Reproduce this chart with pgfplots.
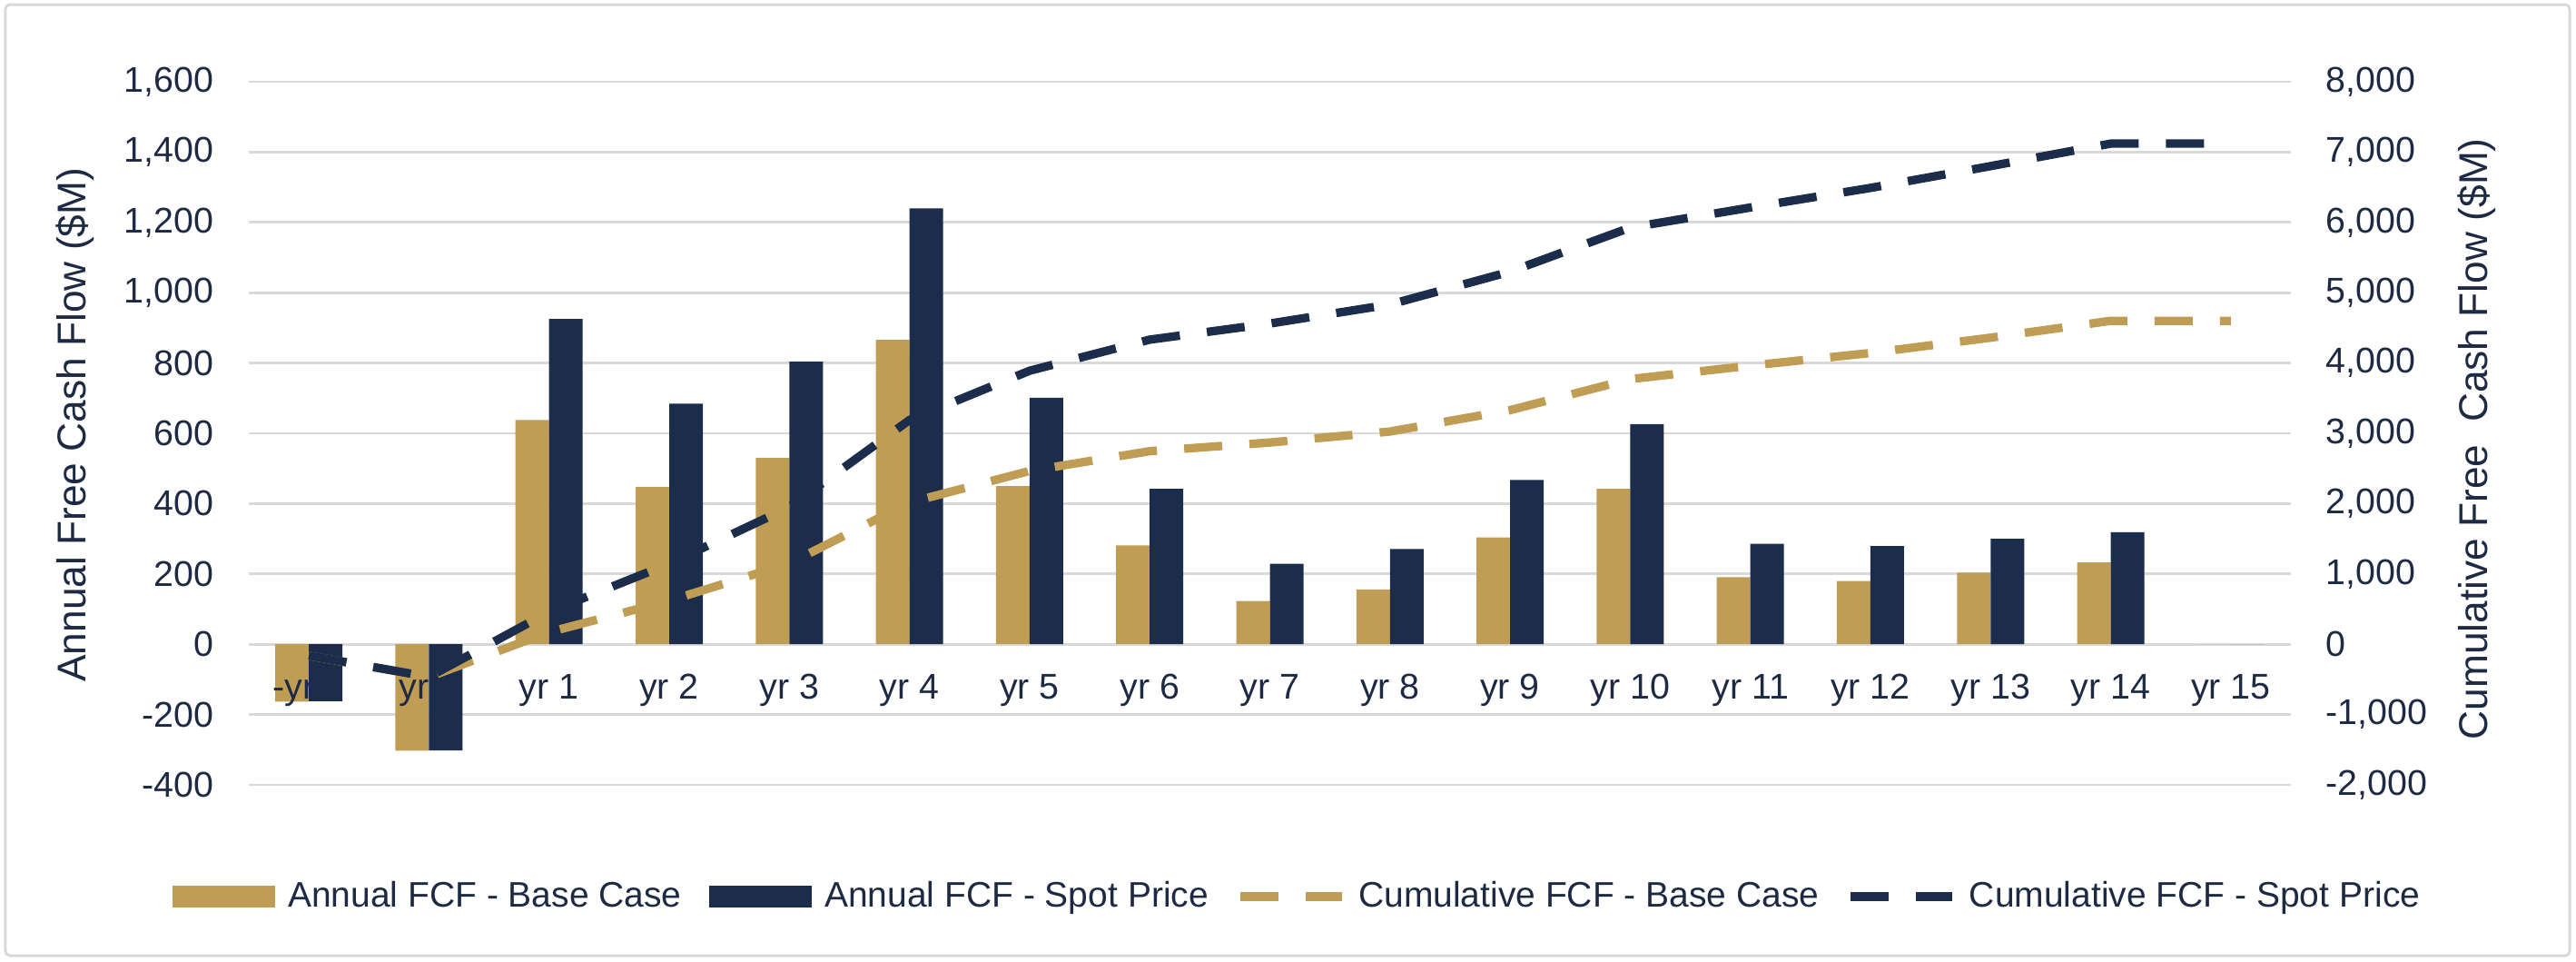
\documentclass[border=0pt]{standalone}
\usepackage{fontspec}
\setmainfont{Liberation Sans}
\usepackage{pgfplots}
\pgfplotsset{compat=1.18}
\usepackage{pgfplotstable}

\definecolor{gold}{RGB}{192,157,85}
\definecolor{navy}{RGB}{28,45,75}
\definecolor{gridgray}{RGB}{217,217,217}
\definecolor{txt}{RGB}{30,42,68}

\tikzset{cumline/.style={line width=0.093cm, dash pattern=on 0.42cm off 0.30cm}}

\pgfplotstableread{
x base spot cumbase cumspot
0 -163 -162 -163 -162
1 -303 -302 -466 -464
2 638 925 172 461
3 447 684 619 1145
4 530 804 1149 1949
5 866 1240 2015 3189
6 450 701 2465 3890
7 281 442 2746 4332
8 123 229 2869 4561
9 156 271 3025 4832
10 304 467 3329 5299
11 442 626 3771 5925
12 191 286 3962 6211
13 180 279 4142 6490
14 204 300 4360 6800
15 233 319 4600 7120
16 0 0 4600 7120
}\data

\begin{document}
\begin{tikzpicture}
\draw[gridgray, line width=0.03cm, rounded corners=0.05cm] (0.06,0.06) rectangle (28.30,10.53);

\begin{axis}[
  set layers,
  at={(2.74cm,1.94cm)}, anchor=south west,
  scale only axis, width=22.49cm, height=7.74cm,
  xmin=-0.5, xmax=16.5, ymin=-400, ymax=1600,
  ytick={-400,-200,...,1600},
  xtick={0,...,16},
  xticklabels={-yr 1, yr 0, yr 1, yr 2, yr 3, yr 4, yr 5, yr 6, yr 7, yr 8, yr 9, yr 10, yr 11, yr 12, yr 13, yr 14, yr 15},
  ybar=0pt, bar width=0.37cm,
  ymajorgrids, major grid style={gridgray, line width=0.027cm},
  axis line style={draw=none}, major tick length=0pt, tick style={draw=none},
  xticklabel style={anchor=center, yshift=1.04cm, inner sep=0pt},
  yticklabel style={anchor=east, inner sep=0pt, xshift=-0.38cm},
  tick label style={font=\fontsize{11.2}{13}\selectfont, text=txt},
  /pgf/number format/assume math mode=true,
  /pgf/number format/1000 sep={,},
  scaled y ticks=false,
  ylabel={Annual Free Cash Flow (\$M)},
  ylabel style={at={(axis description cs:-0.0849,0.512)}, anchor=center, font=\fontsize{12.6}{15}\selectfont, text=txt},
]
\addplot[fill=gold, draw=none, on layer=axis ticks] table[x=x, y=base] {\data};
\addplot[fill=navy, draw=none] table[x=x, y=spot] {\data};
\end{axis}

\begin{axis}[
  set layers,
  at={(2.74cm,1.94cm)}, anchor=south west,
  scale only axis, width=22.49cm, height=7.74cm,
  xmin=-0.5, xmax=16.5, ymin=-2000, ymax=8000,
  axis x line=none, axis y line*=right,
  ytick={-2000,-1000,...,8000},
  axis line style={draw=none}, major tick length=0pt, tick style={draw=none},
  yticklabel style={anchor=west, inner sep=0pt, xshift=0.38cm},
  tick label style={font=\fontsize{11.2}{13}\selectfont, text=txt},
  /pgf/number format/assume math mode=true,
  /pgf/number format/1000 sep={,},
  scaled y ticks=false,
  ylabel={Cumulative Free\ \ Cash Flow (\$M)},
  ylabel style={at={(axis description cs:1.0911,0.492)}, anchor=center, font=\fontsize{12.6}{15}\selectfont, text=txt},
  legend style={at={(axis description cs:0.5129,-0.1589)}, anchor=center, draw=none, fill=none,
    legend columns=4, font=\fontsize{11.1}{13}\selectfont, text=txt,
    /tikz/every odd column/.style={column sep=0.14cm},
    /tikz/every even column/.style={column sep=0.3cm},
    nodes={inner sep=0pt}},
  legend cell align=left,
]
\addlegendimage{legend image code/.code={\fill[gold] (0cm,-0.115cm) rectangle (1.12cm,0.115cm);}}
\addlegendentry{Annual FCF - Base Case}
\addlegendimage{legend image code/.code={\fill[navy] (0cm,-0.115cm) rectangle (1.12cm,0.115cm);}}
\addlegendentry{Annual FCF - Spot Price}
\addplot[gold, cumline,
  legend image code/.code={\draw[gold, cumline] (0cm,0cm) -- (1.12cm,0cm);}] table[x=x, y=cumbase] {\data};
\addlegendentry{Cumulative FCF - Base Case}
\addplot[navy, cumline,
  legend image code/.code={\draw[navy, cumline] (0cm,0cm) -- (1.12cm,0cm);}] table[x=x, y=cumspot] {\data};
\addlegendentry{Cumulative FCF - Spot Price}
\end{axis}
\pgfresetboundingbox
\useasboundingbox (0,0) rectangle (28.37,10.58);
\end{tikzpicture}
\end{document}
